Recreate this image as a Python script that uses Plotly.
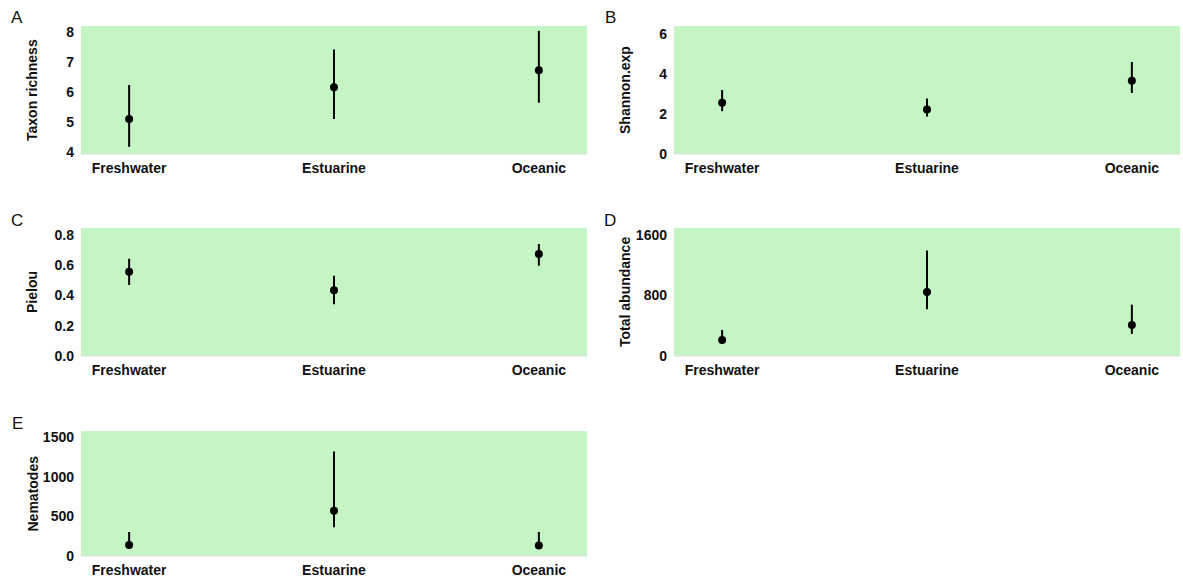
import plotly.graph_objects as go

W, H = 1183, 581

categories = ["Freshwater", "Estuarine", "Oceanic"]

taxon_mean = [5.10, 6.16, 6.72]
taxon_hi = [6.23, 7.42, 8.04]
taxon_lo = [4.17, 5.10, 5.64]

shannon_mean = [2.56, 2.23, 3.66]
shannon_hi = [3.20, 2.77, 4.60]
shannon_lo = [2.14, 1.88, 3.05]

pielou_mean = [0.556, 0.434, 0.673]
pielou_hi = [0.642, 0.530, 0.739]
pielou_lo = [0.469, 0.341, 0.596]

abund_mean = [211, 846, 410]
abund_hi = [344, 1392, 678]
abund_lo = [159, 617, 291]

nema_mean = [138, 571, 133]
nema_hi = [303, 1320, 305]
nema_lo = [95, 364, 100]

panels = [
    dict(letter="A", title="Taxon richness", mean=taxon_mean, hi=taxon_hi, lo=taxon_lo,
         yrange=[3.93, 8.2], tickvals=[4, 5, 6, 7, 8], fmt=None, col=0, row=0),
    dict(letter="B", title="Shannon.exp", mean=shannon_mean, hi=shannon_hi, lo=shannon_lo,
         yrange=[0, 6.4], tickvals=[0, 2, 4, 6], fmt=None, col=1, row=0),
    dict(letter="C", title="Pielou", mean=pielou_mean, hi=pielou_hi, lo=pielou_lo,
         yrange=[0, 0.845], tickvals=[0, 0.2, 0.4, 0.6, 0.8], fmt=".1f", col=0, row=1),
    dict(letter="D", title="Total abundance", mean=abund_mean, hi=abund_hi, lo=abund_lo,
         yrange=[0, 1690], tickvals=[0, 800, 1600], fmt=None, col=1, row=1),
    dict(letter="E", title="Nematodes", mean=nema_mean, hi=nema_hi, lo=nema_lo,
         yrange=[0, 1580], tickvals=[0, 500, 1000, 1500], fmt=None, col=0, row=2),
]

# pixel geometry
col_x = [(81, 587), (674, 1180)]
row_y = [(26, 154), (228, 356), (431, 556)]

FONT = "Liberation Sans, Arial, sans-serif"
GREEN = "#C5F5C5"

fig = go.Figure()
layout = dict(
    width=W, height=H,
    margin=dict(l=0, r=0, t=0, b=0, autoexpand=False),
    paper_bgcolor="white",
    plot_bgcolor="white",
    showlegend=False,
    font=dict(family=FONT, size=14, color="#111111"),
)
annotations = []
shapes = []

for i, p in enumerate(panels):
    n = i + 1
    xa = "xaxis" if n == 1 else f"xaxis{n}"
    ya = "yaxis" if n == 1 else f"yaxis{n}"
    xr = "x" if n == 1 else f"x{n}"
    yr = "y" if n == 1 else f"y{n}"
    x0, x1 = col_x[p["col"]]
    y0, y1 = row_y[p["row"]]
    xdom = [x0 / W, x1 / W]
    ydom = [1 - y1 / H, 1 - y0 / H]

    err_plus = [h - m for h, m in zip(p["hi"], p["mean"])]
    err_minus = [m - l for m, l in zip(p["mean"], p["lo"])]

    fig.add_trace(go.Scatter(
        x=[0, 1, 2], y=p["mean"], mode="markers",
        marker=dict(color="black", size=8),
        error_y=dict(type="data", symmetric=False, array=err_plus, arrayminus=err_minus,
                     color="black", thickness=2, width=0),
        xaxis=xr, yaxis=yr, hoverinfo="skip",
    ))

    layout[xa] = dict(
        domain=xdom, anchor=yr, range=[-0.235, 2.235],
        tickmode="array", tickvals=[0, 1, 2], ticktext=categories,
        showgrid=False, zeroline=False, showline=False, ticks="",
        tickfont=dict(family=FONT, size=14, color="#111111", weight="bold"),
        ticklabelstandoff=4, fixedrange=True, automargin=False,
    )
    yax = dict(
        domain=ydom, anchor=xr, range=p["yrange"],
        tickmode="array", tickvals=p["tickvals"],
        showgrid=False, zeroline=False, showline=False, ticks="",
        tickfont=dict(family=FONT, size=14, color="#111111", weight="bold"),
        ticklabelstandoff=6, fixedrange=True, automargin=False,
    )
    if p["fmt"]:
        yax["tickformat"] = p["fmt"]
    layout[ya] = yax

    shapes.append(dict(type="rect", xref=f"{xr} domain", yref=f"{yr} domain",
                       x0=0, x1=1, y0=0, y1=1, fillcolor=GREEN,
                       line=dict(width=0), layer="below"))
    shapes.append(dict(type="line", xref=f"{xr} domain", yref=f"{yr} domain",
                       x0=0, x1=1, y0=0, y1=0, line=dict(color="#dcdcdc", width=1),
                       layer="below"))

    # y-axis title
    tx = x0 - 49
    annotations.append(dict(
        text=f"<b>{p['title']}</b>", x=tx / W, y=1 - ((y0 + y1) / 2) / H,
        xref="paper", yref="paper", showarrow=False, textangle=-90,
        xanchor="center", yanchor="middle",
        font=dict(family=FONT, size=14, color="#111111"),
    ))
    # panel letter
    annotations.append(dict(
        text=p["letter"], x=(x0 - 64) / W, y=1 - (y0 - 8) / H,
        xref="paper", yref="paper", showarrow=False,
        xanchor="center", yanchor="middle",
        font=dict(family=FONT, size=17, color="#111111"),
    ))

layout["annotations"] = annotations
layout["shapes"] = shapes
fig.update_layout(**layout)

fig.write_html("out.html")
